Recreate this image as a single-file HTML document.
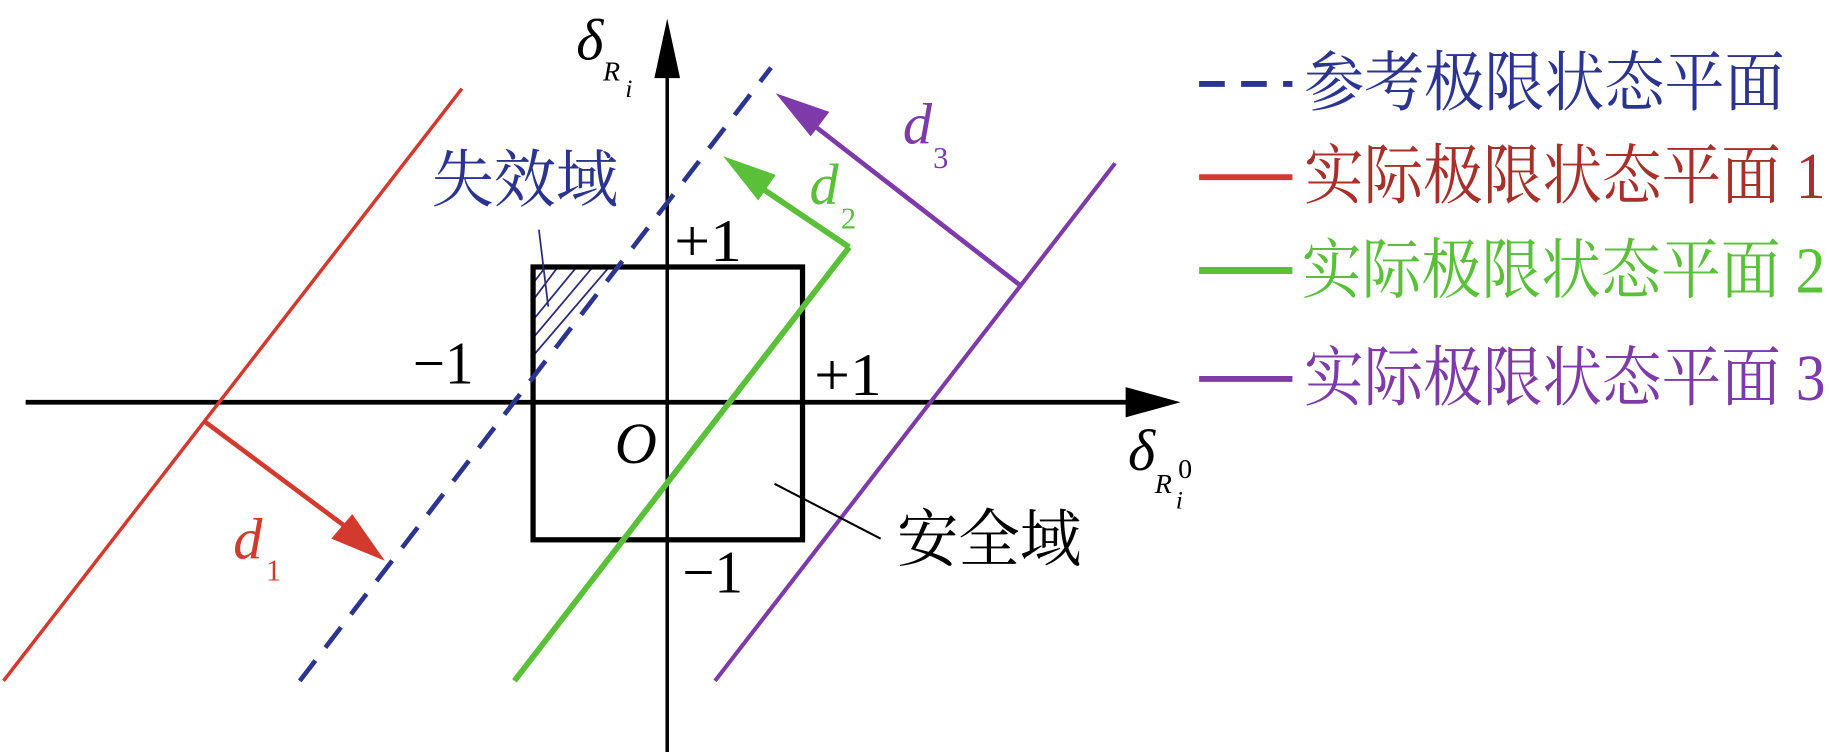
<!DOCTYPE html>
<html><head><meta charset="utf-8"><style>
html,body{margin:0;padding:0;background:#fff;}
svg{display:block;}
text{font-family:"Liberation Serif","Noto Serif CJK SC",serif;}
.cj{font-family:"Liberation Serif","Noto Serif CJK SC","Noto Sans CJK SC",serif;}
</style></head><body>
<svg width="1829" height="752" viewBox="0 0 1568 645" preserveAspectRatio="none" xmlns="http://www.w3.org/2000/svg">
<defs>
<clipPath id="tri"><polygon points="457,229 527,229 457,315"/></clipPath>
</defs>
<g clip-path="url(#tri)" stroke="#2a2a7a" stroke-width="1.5">
<line x1="440" y1="250" x2="480" y2="200"/>
<line x1="440" y1="265" x2="490" y2="200"/>
<line x1="440" y1="280" x2="500" y2="200"/>
<line x1="440" y1="295" x2="510" y2="210"/>
<line x1="440" y1="310" x2="520" y2="215"/>
<line x1="440" y1="325" x2="530" y2="220"/>
</g>
<line x1="22" y1="345" x2="970" y2="345" stroke="#000" stroke-width="4"/>
<polygon points="965,332 1012,345 965,358" fill="#000"/>
<line x1="572" y1="645" x2="572" y2="60" stroke="#000" stroke-width="3"/>
<polygon points="561,67 572,16 583,67" fill="#000"/>
<rect x="457" y="229" width="231" height="234" fill="none" stroke="#000" stroke-width="4.5"/>
<line x1="3" y1="584" x2="396" y2="76" stroke="#d33a2e" stroke-width="3"/>
<line x1="257" y1="584" x2="661" y2="58" stroke="#2b3590" stroke-width="4" stroke-dasharray="22,14"/>
<line x1="441" y1="584" x2="728" y2="212" stroke="#5ac03a" stroke-width="5"/>
<line x1="613" y1="584" x2="956" y2="140" stroke="#7d3aa8" stroke-width="3.5"/>
<line x1="176" y1="362" x2="310" y2="462" stroke="#d33a2e" stroke-width="4"/>
<polygon points="330,481 284,462 302,441" fill="#d33a2e"/>
<line x1="728" y1="212" x2="642" y2="154" stroke="#5ac03a" stroke-width="5"/>
<polygon points="620,134 665,150 650,172" fill="#5ac03a"/>
<line x1="875" y1="245" x2="688" y2="100" stroke="#7d3aa8" stroke-width="4"/>
<polygon points="665,80 711,96 695,117" fill="#7d3aa8"/>
<line x1="462" y1="197" x2="470" y2="263" stroke="#2a2a7a" stroke-width="1.5"/>
<line x1="664" y1="415" x2="755" y2="462" stroke="#000" stroke-width="1.8"/>
<text x="494" y="51" font-size="50" font-style="italic">δ</text>
<text x="517" y="69" font-size="24" font-style="italic">R</text>
<text x="536" y="83" font-size="22" font-style="italic">i</text>
<text x="967" y="403" font-size="50" font-style="italic">δ</text>
<text x="990" y="423" font-size="24" font-style="italic">R</text>
<text x="1008" y="436" font-size="22" font-style="italic">i</text>
<text x="1010" y="410" font-size="24">0</text>
<text class="cj" x="370" y="173" font-size="54" fill="#2b3590" textLength="160" lengthAdjust="spacingAndGlyphs">失效域</text>
<text class="cj" x="769" y="481" font-size="54" fill="#000" textLength="158" lengthAdjust="spacingAndGlyphs">安全域</text>
<text x="578" y="224" font-size="52" textLength="58" lengthAdjust="spacingAndGlyphs">+1</text>
<text x="698" y="339" font-size="52" textLength="58" lengthAdjust="spacingAndGlyphs">+1</text>
<text x="354" y="329" font-size="52" textLength="52" lengthAdjust="spacingAndGlyphs">−1</text>
<text x="585" y="508" font-size="52" textLength="52" lengthAdjust="spacingAndGlyphs">−1</text>
<text x="527" y="397" font-size="50" font-style="italic">O</text>
<text x="200" y="479" font-size="50" font-style="italic" fill="#d33a2e">d</text>
<text x="228" y="498" font-size="26" fill="#d33a2e">1</text>
<text x="694" y="175" font-size="50" font-style="italic" fill="#5ac03a">d</text>
<text x="721" y="196" font-size="26" fill="#5ac03a">2</text>
<text x="774" y="123" font-size="50" font-style="italic" fill="#7d3aa8">d</text>
<text x="800" y="144" font-size="26" fill="#7d3aa8">3</text>
<line x1="1028" y1="72" x2="1108" y2="72" stroke="#2b3590" stroke-width="5" stroke-dasharray="22,14"/>
<line x1="1028" y1="152" x2="1108" y2="152" stroke="#d33a2e" stroke-width="5"/>
<line x1="1028" y1="232" x2="1108" y2="232" stroke="#5ac03a" stroke-width="6"/>
<line x1="1028" y1="325" x2="1108" y2="325" stroke="#7d3aa8" stroke-width="5"/>
<g class="cj" font-size="56">
<text x="1118" y="90" fill="#2b3590" textLength="412" lengthAdjust="spacingAndGlyphs">参考极限状态平面</text>
<text x="1118" y="170" fill="#a8302a" textLength="447" lengthAdjust="spacingAndGlyphs">实际极限状态平面 1</text>
<text x="1116" y="251" fill="#5ac03a" textLength="449" lengthAdjust="spacingAndGlyphs">实际极限状态平面 2</text>
<text x="1118" y="343" fill="#7d3aa8" textLength="447" lengthAdjust="spacingAndGlyphs">实际极限状态平面 3</text>
</g>
</svg>
</body></html>
